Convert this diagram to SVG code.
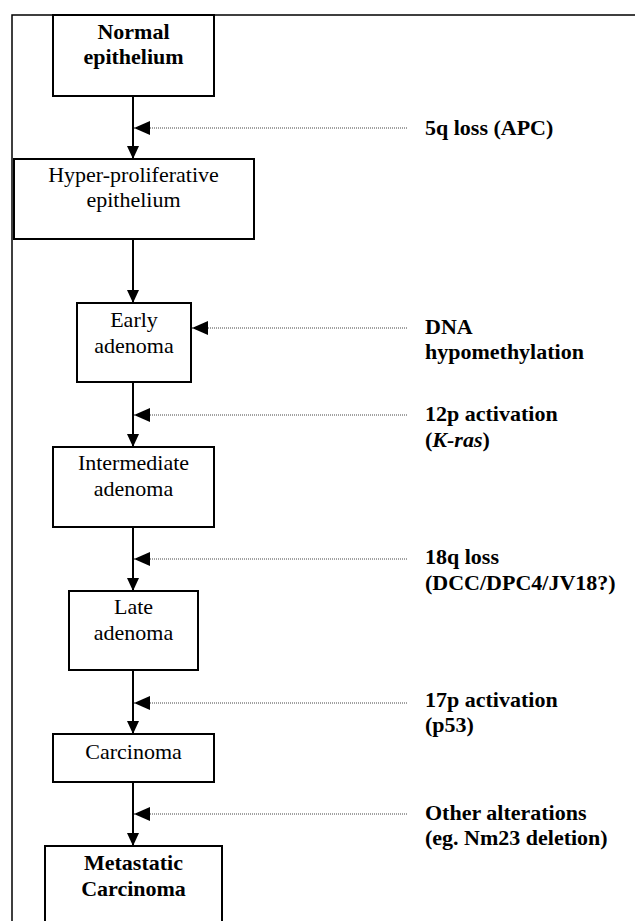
<svg xmlns="http://www.w3.org/2000/svg" width="635" height="921" viewBox="0 0 635 921">
<style>
text{font-family:"Liberation Serif","Times New Roman",serif;font-size:22px;fill:#000}
.c{text-anchor:middle}
.b{font-weight:bold}
.box{fill:#fff;stroke:#000;stroke-width:2}
.flow{stroke:#000;stroke-width:2;fill:none}
.dot{stroke:#444;stroke-width:1;stroke-dasharray:1 1;fill:none}
.frame{stroke:#000;stroke-width:1.5;fill:none}
</style>
<defs>
<marker id="down" markerUnits="userSpaceOnUse" markerWidth="13" markerHeight="12" refX="13" refY="6" orient="auto">
<path d="M0,0 L13,6 L0,12 z" fill="#000"/>
</marker>
<marker id="left" markerUnits="userSpaceOnUse" markerWidth="16" markerHeight="14" refX="16" refY="7" orient="auto">
<path d="M0,0 L16,7 L0,14 z" fill="#000"/>
</marker>
</defs>
<path class="frame" d="M12,921 L12,15 L635,15"/>
<g id="connectors">
<line class="flow" x1="133" y1="96" x2="133" y2="159" marker-end="url(#down)"/>
<line class="flow" x1="133" y1="239" x2="133" y2="303" marker-end="url(#down)"/>
<line class="flow" x1="133" y1="382" x2="133" y2="447" marker-end="url(#down)"/>
<line class="flow" x1="133" y1="527" x2="133" y2="591" marker-end="url(#down)"/>
<line class="flow" x1="133" y1="670" x2="133" y2="734" marker-end="url(#down)"/>
<line class="flow" x1="133" y1="782" x2="133" y2="846" marker-end="url(#down)"/>
<line class="dot" x1="407" y1="128" x2="134" y2="128" marker-end="url(#left)"/>
<line class="dot" x1="407" y1="328" x2="192" y2="328" marker-end="url(#left)"/>
<line class="dot" x1="407" y1="415" x2="134" y2="415" marker-end="url(#left)"/>
<line class="dot" x1="407" y1="559" x2="134" y2="559" marker-end="url(#left)"/>
<line class="dot" x1="407" y1="703" x2="134" y2="703" marker-end="url(#left)"/>
<line class="dot" x1="407" y1="814" x2="134" y2="814" marker-end="url(#left)"/>
</g>
<g id="normal">
<rect class="box" x="53" y="15" width="161" height="81"/>
<text class="c b" x="133.5" y="39">Normal</text>
<text class="c b" x="133.5" y="64">epithelium</text>
</g>
<g id="hyper">
<rect class="box" x="14" y="159" width="240" height="80"/>
<text class="c" x="133.5" y="182">Hyper-proliferative</text>
<text class="c" x="133.5" y="207">epithelium</text>
</g>
<g id="early">
<rect class="box" x="77" y="303" width="114" height="79"/>
<text class="c" x="134" y="327">Early</text>
<text class="c" x="134" y="353">adenoma</text>
</g>
<g id="intermediate">
<rect class="box" x="53" y="447" width="161" height="80"/>
<text class="c" x="133.5" y="470">Intermediate</text>
<text class="c" x="133.5" y="496">adenoma</text>
</g>
<g id="late">
<rect class="box" x="69" y="591" width="129" height="79"/>
<text class="c" x="133.5" y="614">Late</text>
<text class="c" x="133.5" y="640">adenoma</text>
</g>
<g id="carcinoma">
<rect class="box" x="53" y="734" width="161" height="48"/>
<text class="c" x="133.5" y="759">Carcinoma</text>
</g>
<g id="metastatic">
<rect class="box" x="45" y="846" width="177" height="90"/>
<text class="c b" x="133.5" y="870">Metastatic</text>
<text class="c b" x="133.5" y="896">Carcinoma</text>
</g>
<g id="labels">
<text class="b" x="425" y="135">5q loss (APC)</text>
<text class="b" x="425" y="334">DNA</text>
<text class="b" x="425" y="359">hypomethylation</text>
<text class="b" x="425" y="421">12p activation</text>
<text class="b" x="425" y="447">(<tspan font-style="italic">K-ras</tspan>)</text>
<text class="b" x="425" y="564">18q loss</text>
<text class="b" x="425" y="590">(DCC/DPC4/JV18?)</text>
<text class="b" x="425" y="707">17p activation</text>
<text class="b" x="425" y="732">(p53)</text>
<text class="b" x="425" y="820">Other alterations</text>
<text class="b" x="425" y="845">(eg. Nm23 deletion)</text>
</g>
</svg>
